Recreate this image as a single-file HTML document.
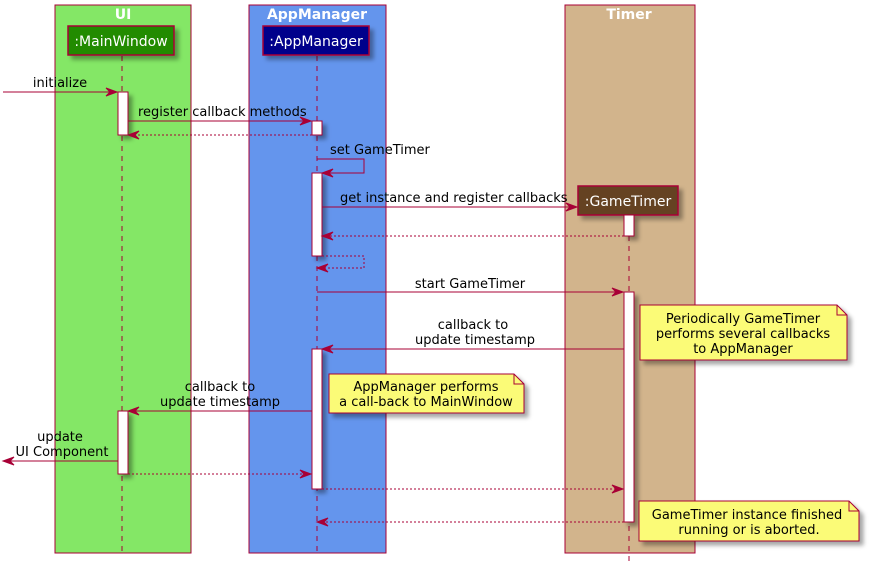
<!DOCTYPE html>
<html><head><meta charset="utf-8"><style>
html,body{margin:0;padding:0;background:#fff;width:870px;height:571px;overflow:hidden}
svg{display:block}
text{font-family:"DejaVu Sans","Liberation Sans",sans-serif;font-size:13px;fill:#000}
.t{font-weight:bold;font-size:14px;fill:#fff}
.h{fill:#fff;font-size:14px}
</style></head><body>
<svg width="870" height="571" viewBox="0 0 870 571" xmlns="http://www.w3.org/2000/svg">
<defs>
<filter id="sh" x="-20%" y="-20%" width="150%" height="150%"><feDropShadow dx="4" dy="4" stdDeviation="2" flood-color="#000" flood-opacity="0.35"/></filter>
</defs>
<!-- boxes -->
<rect x="55" y="5" width="136" height="548" fill="#84E766" stroke="#A80036"/>
<rect x="249" y="5" width="137" height="548" fill="#6495ED" stroke="#A80036"/>
<rect x="565" y="5" width="130" height="548" fill="#D2B48C" stroke="#A80036"/>
<text class="t" x="123" y="19" text-anchor="middle">UI</text>
<text class="t" x="317" y="19" text-anchor="middle">AppManager</text>
<text class="t" x="629" y="19" text-anchor="middle">Timer</text>
<!-- lifelines -->
<g stroke="#A80036" stroke-dasharray="5,5" fill="none">
<line x1="122" y1="56" x2="122" y2="555"/>
<line x1="317" y1="56" x2="317" y2="555"/>
<line x1="629" y1="216" x2="629" y2="562"/>
</g>
<!-- heads -->
<g filter="url(#sh)" stroke="#A80036" stroke-width="1.5">
<rect x="68" y="26" width="106" height="29" fill="#228B00"/>
<rect x="263" y="26" width="106" height="29" fill="#00008B"/>
<rect x="578" y="186" width="100" height="29" fill="#654321"/>
</g>
<text class="h" x="121" y="46" text-anchor="middle">:MainWindow</text>
<text class="h" x="316" y="46" text-anchor="middle">:AppManager</text>
<text class="h" x="628" y="206" text-anchor="middle">:GameTimer</text>
<!-- activations -->
<g filter="url(#sh)" fill="#fff" stroke="#A80036">
<rect x="118" y="92" width="10" height="43"/>
<rect x="118" y="411" width="10" height="63"/>
<rect x="312" y="121" width="10" height="14"/>
<rect x="312" y="173" width="10" height="83"/>
<rect x="312" y="349" width="10" height="140"/>
<rect x="624" y="215" width="10" height="21"/>
<rect x="624" y="292" width="10" height="230"/>
</g>
<!-- messages -->
<g stroke="#A80036" fill="none">
<line x1="3" y1="92" x2="116" y2="92"/>
<line x1="128" y1="121" x2="310" y2="121"/>
<line x1="312" y1="135" x2="130" y2="135" stroke-dasharray="2,2"/>
<polyline points="317,159 364,159 364,173 324,173"/>
<line x1="322" y1="207" x2="576" y2="207"/>
<line x1="624" y1="236" x2="324" y2="236" stroke-dasharray="2,2"/>
<polyline points="322,256 364,256 364,268 319,268" stroke-dasharray="2,2"/>
<line x1="317" y1="292" x2="622" y2="292"/>
<line x1="624" y1="349" x2="324" y2="349"/>
<line x1="312" y1="411" x2="130" y2="411"/>
<line x1="118" y1="461" x2="5" y2="461"/>
<line x1="128" y1="474" x2="310" y2="474" stroke-dasharray="2,2"/>
<line x1="322" y1="489" x2="622" y2="489" stroke-dasharray="2,2"/>
<line x1="624" y1="522" x2="319" y2="522" stroke-dasharray="2,2"/>
</g>
<g fill="#A80036" stroke="#A80036">
<polygon points="106,88 117,92 106,96 110,92"/>
<polygon points="300,117 311,121 300,125 304,121"/>
<polygon points="139,131 128,135 139,139 135,135"/>
<polygon points="333,169 322,173 333,177 329,173"/>
<polygon points="566,203 577,207 566,211 570,207"/>
<polygon points="333,232 322,236 333,240 329,236"/>
<polygon points="328,264 317,268 328,272 324,268"/>
<polygon points="612,288 623,292 612,296 616,292"/>
<polygon points="333,345 322,349 333,353 329,349"/>
<polygon points="139,407 128,411 139,415 135,411"/>
<polygon points="14,457 3,461 14,465 10,461"/>
<polygon points="300,470 311,474 300,478 304,474"/>
<polygon points="612,485 623,489 612,493 616,489"/>
<polygon points="328,518 317,522 328,526 324,522"/>
</g>
<text x="60" y="87" text-anchor="middle">initialize</text>
<text x="138" y="116">register callback methods</text>
<text x="330" y="154">set GameTimer</text>
<text x="340" y="202">get instance and register callbacks</text>
<text x="470" y="288" text-anchor="middle">start GameTimer</text>
<text x="473" y="329" text-anchor="middle">callback to</text>
<text x="475" y="344" text-anchor="middle">update timestamp</text>
<text x="220" y="391" text-anchor="middle">callback to</text>
<text x="220" y="406" text-anchor="middle">update timestamp</text>
<text x="60" y="441" text-anchor="middle">update</text>
<text x="62" y="456" text-anchor="middle">UI Component</text>
<!-- notes -->
<g filter="url(#sh)" fill="#FBFB77" stroke="#A80036">
<path d="M640,305 H837 L847,315 V360 H640 Z"/>
<path d="M329,374 H514 L524,384 V413 H329 Z"/>
<path d="M639,501 H849 L859,511 V541 H639 Z"/>
</g>
<g fill="none" stroke="#A80036">
<path d="M837,305 V315 H847"/>
<path d="M514,374 V384 H524"/>
<path d="M849,501 V511 H859"/>
</g>
<text x="743" y="323" text-anchor="middle">Periodically GameTimer</text>
<text x="743" y="338" text-anchor="middle">performs several callbacks</text>
<text x="743" y="353" text-anchor="middle">to AppManager</text>
<text x="426" y="391" text-anchor="middle">AppManager performs</text>
<text x="426" y="406" text-anchor="middle">a call-back to MainWindow</text>
<text x="747" y="519" text-anchor="middle">GameTimer instance finished</text>
<text x="749" y="534" text-anchor="middle">running or is aborted.</text>
</svg>
</body></html>
